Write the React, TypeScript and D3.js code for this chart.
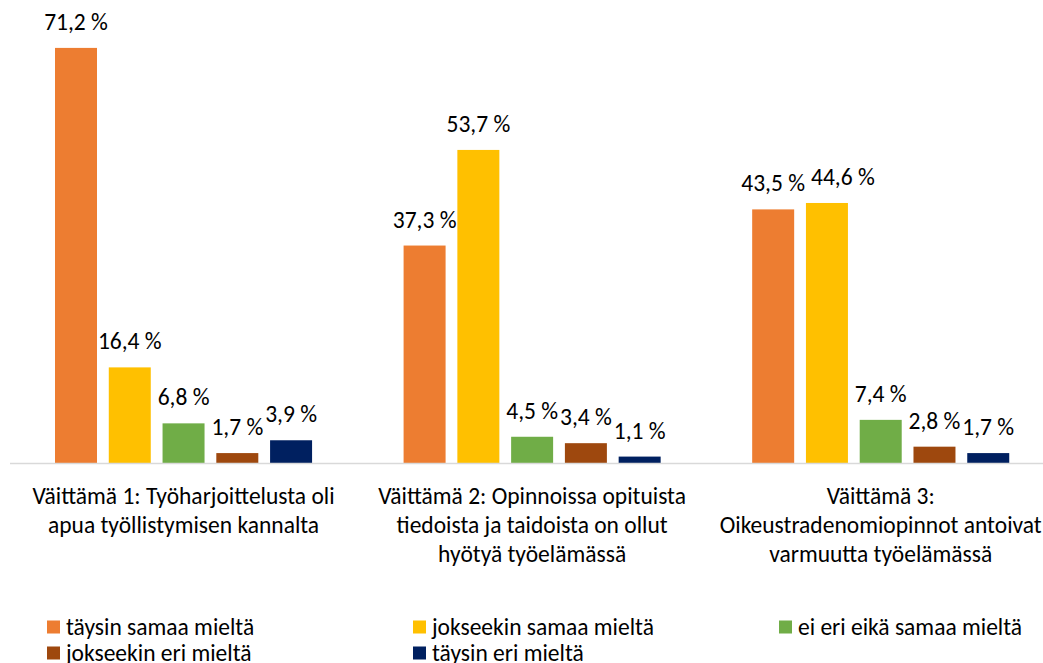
import React, { useMemo } from "react";
import * as d3 from "d3";

const categories = [
  ["Väittämä 1: Työharjoittelusta oli", "apua työllistymisen kannalta"],
  ["Väittämä 2: Opinnoissa opituista", "tiedoista ja taidoista on ollut", "hyötyä työelämässä"],
  ["Väittämä 3:", "Oikeustradenomiopinnot antoivat", "varmuutta työelämässä"],
];

const seriesNames = [
  "täysin samaa mieltä",
  "jokseekin samaa mieltä",
  "ei eri eikä samaa mieltä",
  "jokseekin eri mieltä",
  "täysin eri mieltä",
];

const taysinSamaa = [71.2, 37.3, 43.5];
const jokseekinSamaa = [16.4, 53.7, 44.6];
const eiEriEikaSamaa = [6.8, 4.5, 7.4];
const jokseekinEri = [1.7, 3.4, 2.8];
const taysinEri = [3.9, 1.1, 1.7];

const seriesValues = [taysinSamaa, jokseekinSamaa, eiEriEikaSamaa, jokseekinEri, taysinEri];
const colors = ["#ED7D31", "#FFC000", "#70AD47", "#9E480E", "#002060"];

const width = 1043;
const height = 663;
const font = "Calibri, Carlito, Lato, sans-serif";
const fontSize = 23.5;

const fmt = (v: number) => v.toFixed(1).replace(".", ",") + " %";

const App = () => {
  const catKeys = categories.map((_, i) => String(i));
  const x0 = d3.scaleBand<string>().domain(catKeys).range([9.25, 1055]).padding(0);
  const x1 = d3
    .scaleBand<string>()
    .domain(seriesNames)
    .range([0, x0.bandwidth()])
    .paddingInner(0.219)
    .paddingOuter(0.851);
  const y = d3.scaleLinear().domain([0, 80]).range([463, -3.4]);

  // data labels, nudged right when they would collide (like Excel does)
  const labels = useMemo(() => {
    const ctx = document.createElement("canvas").getContext("2d");
    if (ctx) ctx.font = `${fontSize}px ${font}`;
    const measure = (s: string) => (ctx ? ctx.measureText(s).width : s.length * 11);
    const out: { key: string; x: number; y: number; text: string }[] = [];
    categories.forEach((_, ci) => {
      let prev: { right: number; y: number } | null = null;
      seriesNames.forEach((name, si) => {
        const v = seriesValues[si][ci];
        const text = fmt(v);
        const w = measure(text);
        let cx = (x0(String(ci)) ?? 0) + (x1(name) ?? 0) + x1.bandwidth() / 2;
        const ly = y(v) - 18;
        if (prev && Math.abs(prev.y - ly) < fontSize * 0.8 && cx - w / 2 < prev.right) {
          cx = prev.right + 6 + w / 2;
        }
        prev = { right: cx + w / 2, y: ly };
        out.push({ key: `${name}-${ci}`, x: cx, y: ly, text });
      });
    });
    return out;
  }, []);

  return (
    <svg
      width={width}
      height={height}
      style={{ position: "absolute", left: 0, top: 0, background: "#fff" }}
      fontFamily={font}
    >
      {/* bars */}
      {seriesNames.map((name, si) =>
        seriesValues[si].map((v, ci) => (
          <rect
            key={`${name}-${ci}`}
            x={(x0(String(ci)) ?? 0) + (x1(name) ?? 0)}
            y={y(v)}
            width={x1.bandwidth()}
            height={y(0) - y(v)}
            fill={colors[si]}
          />
        ))
      )}

      {/* value labels */}
      {labels.map((l) => (
        <text key={l.key} x={l.x} y={l.y} textAnchor="middle" fontSize={fontSize} fill="#000">
          {l.text}
        </text>
      ))}

      {/* axis line */}
      <line x1={10} x2={width} y1={y(0) + 0.5} y2={y(0) + 0.5} stroke="#D9D9D9" strokeWidth={1.5} />

      {/* category labels */}
      {categories.map((lines, ci) => (
        <text
          key={`cat-${ci}`}
          x={(x0(String(ci)) ?? 0) + x0.bandwidth() / 2}
          textAnchor="middle"
          fontSize={fontSize}
          fill="#000"
        >
          {lines.map((l, li) => (
            <tspan key={li} x={(x0(String(ci)) ?? 0) + x0.bandwidth() / 2} y={504 + li * 29}>
              {l}
            </tspan>
          ))}
        </text>
      ))}

      {/* legend */}
      {seriesNames.map((name, si) => {
        const col = si % 3;
        const row = Math.floor(si / 3);
        const lx = 47 + col * 366;
        const ly = 627 + row * 26;
        return (
          <g key={`leg-${name}`} transform={`translate(${lx}, ${ly})`}>
            <rect x={0} y={-6.5} width={13} height={13} fill={colors[si]} />
            <text x={19} y={0} dominantBaseline="central" fontSize={fontSize} fill="#000">
              {name}
            </text>
          </g>
        );
      })}
    </svg>
  );
};

export default App;
